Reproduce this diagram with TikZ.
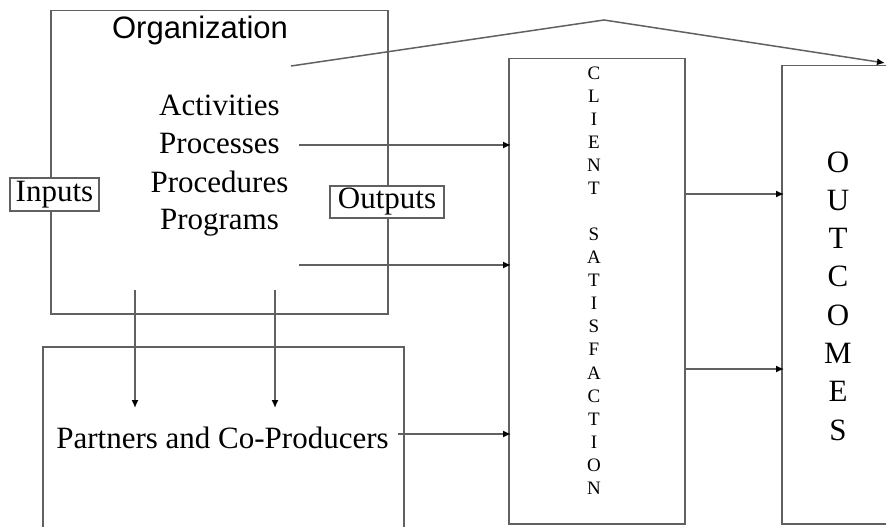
\documentclass[tikz,border=0pt]{standalone}
\usepackage{fontspec}
\setmainfont{Liberation Serif}
\newfontfamily\arialfont{Liberation Sans}
\usetikzlibrary{arrows.meta}
\begin{document}
\begin{tikzpicture}[x=1pt,y=-1pt,
  ln/.style={draw=black!62, line width=1.5pt},
  box/.style={ln, rectangle, inner sep=0pt, anchor=north west},
  arr/.style={ln, -{Latex[length=8pt,width=7pt,color=black]}, shorten >=-3pt},
  lbl/.style={font=\fontsize{31}{31}\selectfont, inner sep=0pt},
  tagbox/.style={lbl, ln, fill=white}]
\useasboundingbox (0,0) rectangle (886,527);
\clip (0,0) rectangle (886,527);
\fill[white] (0,0) rectangle (886,527);

% boxes
\node[box, minimum width=337pt, minimum height=303pt] (org) at (50,10) {};
\node[box, minimum width=361pt, minimum height=250pt] (part) at (42,346) {};
\node[box, minimum width=176pt, minimum height=465pt] (cli) at (508,58) {};
\node[box, minimum width=150pt, minimum height=458pt] (out) at (781,65) {};

% texts
\node[font=\arialfont\fontsize{31}{31}\selectfont, anchor=base, inner sep=0pt] (orgt) at (200,39) {Organization};
\node[lbl, anchor=base] (act) at (219.5,115) {Activities};
\node[lbl, anchor=base] (proc) at (219.5,153) {Processes};
\node[lbl, anchor=base] (pced) at (219.5,192) {Procedures};
\node[lbl, anchor=base] (prog) at (219.5,229) {Programs};
\node[lbl, anchor=base] (ptxt) at (222.5,448) {Partners and Co-Producers};
\node[font=\fontsize{19}{23.06}\selectfont, align=center, inner sep=0pt] (clit) at (594,280.5)
  {C\\L\\I\\E\\N\\T\\\mbox{}\\S\\A\\T\\I\\S\\F\\A\\C\\T\\I\\O\\N};
\node[font=\fontsize{31}{38.3}\selectfont, align=center, inner sep=0pt] (outt) at (838,296)
  {O\\U\\T\\C\\O\\M\\E\\S};

% connectors
\coordinate (p1) at (299,145);
\coordinate (p2) at (299,265);
\coordinate (p3) at (398,434);
\draw[arr] (p1) -- (p1 -| cli.west);
\draw[arr] (p2) -- (p2 -| cli.west);
\draw[arr] (p3) -- (p3 -| cli.west);

\coordinate (d1) at (135,290);
\coordinate (d1e) at (135,408);
\coordinate (d2) at (275,290);
\coordinate (d2e) at (275,408);
\draw[arr, shorten >=0pt] (d1) -- (d1e);
\draw[arr, shorten >=0pt] (d2) -- (d2e);

\coordinate (q1) at (684,194);
\coordinate (q2) at (684,369);
\draw[arr] (q1 -| cli.east) -- (q1 -| out.west);
\draw[arr] (q2 -| cli.east) -- (q2 -| out.west);

\coordinate (t0) at (291,66);
\coordinate (tpk) at (604,20);
\coordinate (t1) at (885,63);
\draw[arr, shorten >=0pt] (t0) -- (tpk) -- (t1);

% tag boxes on the organization border
\node[tagbox, minimum width=89pt, minimum height=33pt] (inp) at (54.5,194.5) {Inputs};
\node[tagbox, minimum width=114pt, minimum height=32pt] (outp) at (387,202) {Outputs};
\end{tikzpicture}
\end{document}
